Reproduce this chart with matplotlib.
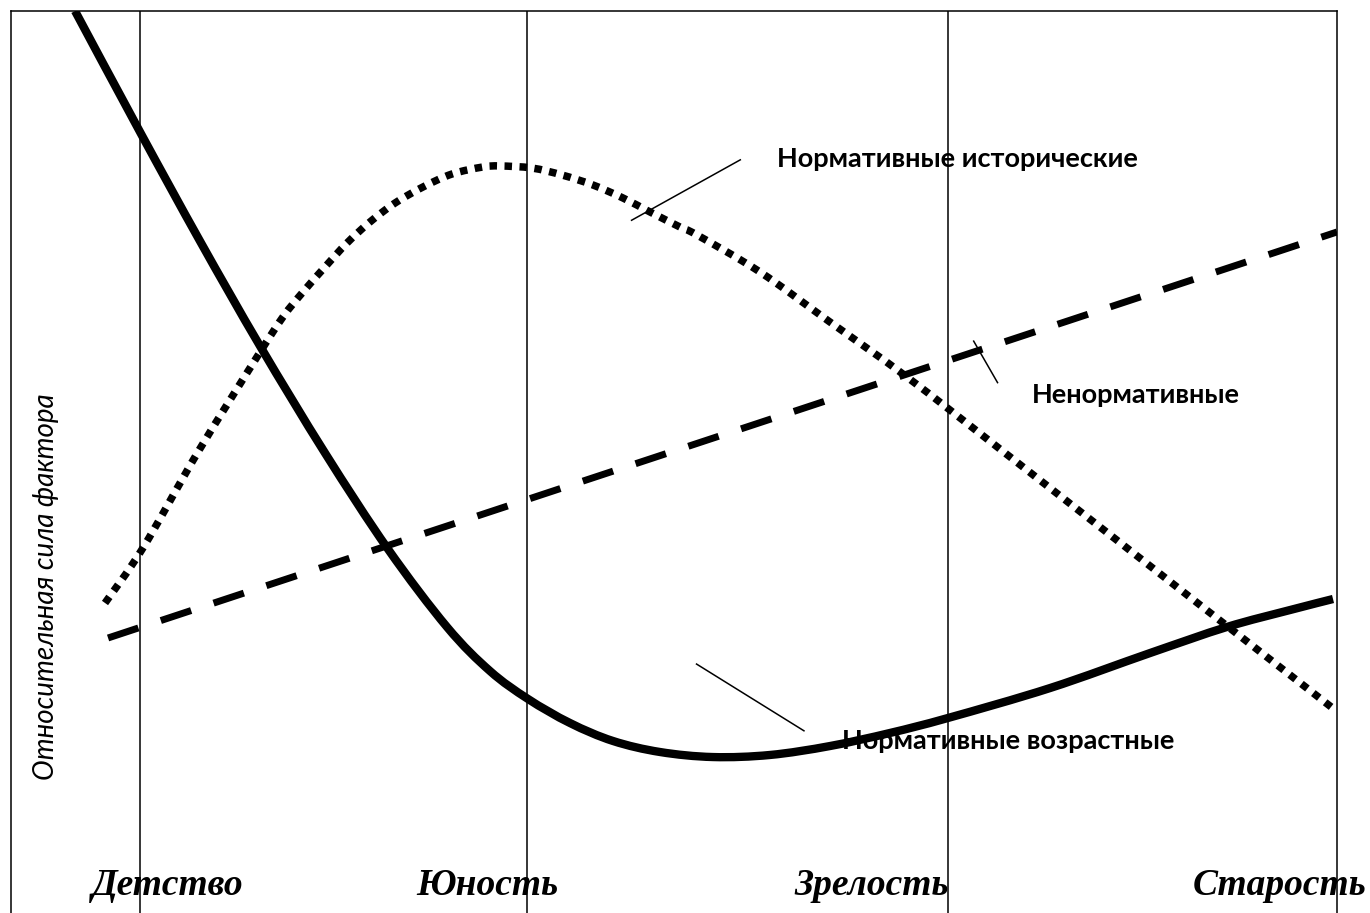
import matplotlib
matplotlib.use('Agg')
import matplotlib.pyplot as plt
import numpy as np
from matplotlib.patches import PathPatch
from matplotlib.path import Path

# age axis runs 0..100 across the frame, strength 0..100 from bottom to top
age_normative = [4.83, 9.73, 14.25, 18.78, 23.68, 28.43, 32.88, 36.12, 38.99, 42.16, 45.40,
				 48.94, 52.94, 57.24, 61.76, 66.29, 70.66, 78.36, 85.90, 91.70, 96.46, 99.70]
strength_normative = [100.0, 86.59, 74.50, 62.86, 51.00, 40.35, 31.71, 26.83, 23.73, 21.06, 19.07,
					  17.85, 17.29, 17.52, 18.51, 19.96, 21.62, 24.94, 28.82, 31.71, 33.59, 34.81]

age_historical = [7.09, 9.95, 14.10, 18.55, 20.51, 22.02, 23.68, 25.34, 27.07, 28.96, 31.07,
				  33.26, 35.60, 36.88, 39.29, 41.55, 43.89, 46.15, 48.19, 50.45, 51.73, 56.49,
				  61.76, 67.57, 74.58, 82.13, 89.67, 99.85]
strength_historical = [34.37, 40.47, 51.11, 61.64, 66.08, 68.85, 71.62, 74.28, 76.61, 78.71, 80.49,
					   81.93, 82.71, 82.82, 82.59, 81.82, 80.71, 79.27, 77.72, 76.05, 75.17, 71.06,
					   65.52, 59.42, 51.44, 42.79, 34.15, 22.51]

age_nonnormative = [7.32, 100.0]
strength_nonnormative = [30.49, 75.50]

stage_bounds = [9.73, 38.91, 70.66]
stage_names = ['Детство', 'Юность', 'Зрелость', 'Старость']
stage_label_x = [11.8, 35.9, 64.9, 95.7]

y_label = 'Относительная сила фактора'


def smooth_path(xs, ys):
	# bezier path through the points (catmull-rom tangents)
	pts = np.column_stack([xs, ys]).astype(float)
	n = len(pts)
	verts = [pts[0]]
	codes = [Path.MOVETO]
	for i in range(n - 1):
		p0 = pts[max(i - 1, 0)]
		p1 = pts[i]
		p2 = pts[i + 1]
		p3 = pts[min(i + 2, n - 1)]
		verts += [p1 + (p2 - p0) / 6, p2 - (p3 - p1) / 6, p2]
		codes += [Path.CURVE4] * 3
	return Path(verts, codes)


W, H = 1370, 913
fig = plt.figure(figsize=(W / 100, H / 100), dpi=100)
ax = fig.add_axes([11 / W, 0, (1337 - 11) / W, 1 - 11 / H])
ax.set_xlim(0, 100)
ax.set_ylim(0, 100)
ax.set_xticks([])
ax.set_yticks([])
for side in ['left', 'top', 'right']:
	ax.spines[side].set_linewidth(1.1)
	ax.spines[side].set_color('black')
ax.spines['bottom'].set_visible(False)

for xb in stage_bounds:
	ax.axvline(xb, color='black', lw=1.1, zorder=1)

ax.add_patch(PathPatch(smooth_path(age_normative, strength_normative), fill=False,
					   edgecolor='black', lw=6, capstyle='butt', joinstyle='round', zorder=3))
ax.add_patch(PathPatch(smooth_path(age_historical, strength_historical), fill=False,
					   edgecolor='black', lw=5.4, linestyle=(0, (1, 1)), capstyle='butt', zorder=3))
ax.plot(age_nonnormative, strength_nonnormative, color='black', lw=5,
		linestyle=(0, (4.6, 3.4)), dash_capstyle='butt', zorder=3)

label_font = dict(family='Lato', fontweight='bold', fontsize=19.5, color='black')

# leader lines and labels
ax.plot([55.0, 46.8], [83.5, 76.8], color='black', lw=1.1, zorder=4)
ax.text(57.8, 83.6, 'Нормативные исторические', ha='left', va='center', zorder=5, **label_font)

ax.plot([72.6, 74.4], [63.4, 58.8], color='black', lw=1.1, zorder=4)
ax.text(77.0, 57.4, 'Ненормативные', ha='left', va='center', zorder=5, **label_font)

ax.plot([51.7, 59.8], [27.6, 20.2], color='black', lw=1.1, zorder=4)
ax.text(62.7, 19.1, 'Нормативные возрастные', ha='left', va='center', zorder=5, **label_font)

for name, xl in zip(stage_names, stage_label_x):
	ax.text(xl, 3.1, name, ha='center', va='center', family='Liberation Serif',
			fontweight='bold', fontstyle='italic', fontsize=27, clip_on=False, zorder=5)

fig.text(46 / W, 1 - 587 / H, y_label, rotation=90, ha='center', va='center',
		 family='Lato', fontstyle='italic', fontsize=20)

fig.savefig('out.png', dpi=100)
